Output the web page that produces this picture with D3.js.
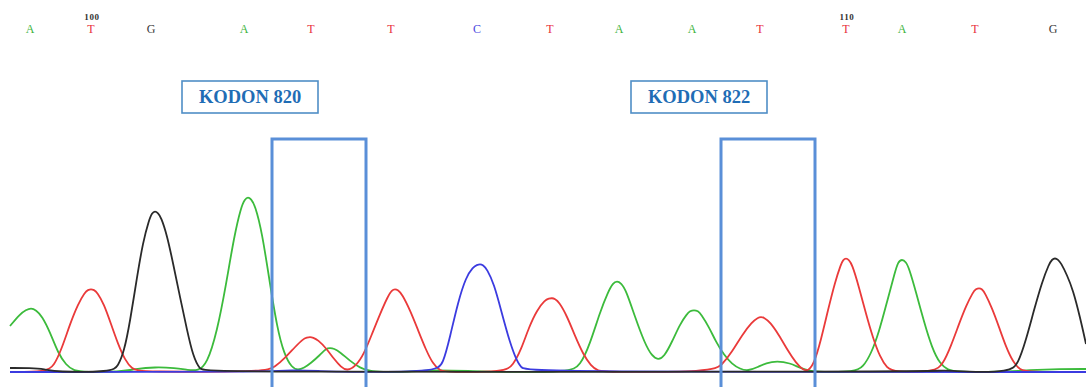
<!DOCTYPE html>
<html>
<head>
<meta charset="utf-8">
<script src="https://cdn.jsdelivr.net/npm/d3@7/dist/d3.min.js"></script>
<style>
  html, body { margin: 0; padding: 0; background: #fff; }
  svg { display: block; }
</style>
</head>
<body>
<svg id="chart" width="1086" height="387"></svg>
<script>
// ---------- DATA ----------
// Base calls and their scan positions
const baseCalls = ["A","T","G","A","T","T","C","T","A","A","T","T","A","T","G"];
const basePositions = [30, 91, 151, 244, 311, 391, 477, 550, 619, 692, 760, 846, 902, 975, 1053];
// Position numbering labels (index into baseCalls)
const positionLabels = ["100", "110"];
const positionLabelIndex = [1, 11];

// Codon annotations (scan-position ranges)
const codonLabels = ["KODON 820", "KODON 822"];
const codonStart = [272, 721];
const codonEnd = [366, 815];

// Trace signals: [scan position, signal intensity]
const traceA = [ // green
  [10,46],[20,58],[26,62],[31,64],[36,62],[42,56],[50,40],[58,19],[66,7],[74,1],[85,0],
  [120,0],[135,3],[155,5],[175,4],[188,2],[198,1],
  [207,8],[217,40],[226,87],[234,135],[241,165],[245,173],[248,175],[251,173],[255,167],[262,140],[270,88],[277,45],[284,18],[292,4],
  [298,2],[304,4],[311,9],[320,17],[326,23.5],[330,24],[334,23.5],[340,20],[350,11],[360,4],[370,1],[380,0],
  [410,0],[430,2],[470,1],[500,0],
  [570,0],[580,6],[590,28],[600,60],[608,80],[613,89],[617,91],[621,89],[626,82],[635,55],[645,28],[652,16],[658,12],[664,15],[672,30],[680,48],[687,58],[690,61],[694,62],[698,61],[701,58],[709,45],[716,30],[724,17],[732,8],[740,3],[748,1],
  [758,5],[766,9],[777,11],[790,9],[800,4],[810,1],[820,0],
  [855,0],[863,5],[871,18],[879,40],[887,70],[895,100],[898,110],[902,113],[906,110],[909,104],[916,80],[924,50],[932,24],[940,8],[948,2],[956,0],
  [1000,0],[1030,2],[1060,3],[1086,3]
];
const traceT = [ // red
  [10,0],[46,0],[54,6],[62,24],[70,48],[78,68],[85,80],[88,82],[91,83],[94,82],[97,80],[104,68],[111,48],[118,28],[125,12],[132,3],[140,0],
  [265,0],[275,5],[285,14],[295,25],[303,33],[307,34.5],[310,35],[313,34.5],[318,32],[326,24],[334,13],[341,5],[347,1],
  [356,6],[364,18],[372,38],[380,58],[388,76],[392,82],[395,83],[398,82],[402,78],[410,62],[418,42],[426,22],[433,8],[440,1],[448,0],
  [505,0],[513,7],[521,22],[529,45],[537,62],[545,72],[549,73.5],[552,74],[555,73],[559,70],[567,56],[575,36],[583,18],[591,6],[598,1],[606,0],
  [712,0],[722,7],[732,20],[742,37],[752,50],[758,54.5],[761,55],[764,54.5],[770,50],[779,37],[788,21],[796,9],[803,2],[808,1],
  [814,8],[821,32],[828,62],[835,90],[841,108],[843,112],[846,114],[849,112],[852,108],[859,85],[866,58],[873,34],[880,15],[887,4],[894,0],
  [935,0],[943,8],[951,26],[959,48],[966,66],[973,80],[976,83],[979,84],[982,83],[985,79],[992,64],[999,45],[1006,25],[1013,10],[1020,2],[1028,0],
  [1086,0]
];
const traceC = [ // blue
  [10,0],[270,0],[290,2],[320,1],[340,0],
  [436,0],[443,8],[450,35],[458,70],[466,95],[473,105],[477,107],[480,108],[483,107],[487,103],[494,88],[501,62],[508,36],[515,15],[521,4],[528,0],
  [1086,0]
];
const traceG = [ // black
  [10,4],[30,4],[45,3],[55,0],
  [112,0],[118,6],[124,20],[130,50],[137,95],[143,130],[149,152],[152,159],[155,161],[158,159],[161,155],[167,137],[173,109],[180,75],[187,42],[193,16],[200,2],[206,0],
  [920,0],[945,2],[965,0],
  [1010,0],[1018,8],[1026,32],[1034,62],[1042,90],[1049,108],[1052,112.5],[1055,114],[1058,112.5],[1061,109],[1067,97],[1073,82],[1080,55],[1086,28]
];

// ---------- STYLE ----------
const baseColors = { A: "#3cb43c", T: "#e8303c", G: "#3a3a3a", C: "#4848e0" };
const traces = [
  { data: traceA, color: "#3cbb3c" },
  { data: traceT, color: "#ea3a3a" },
  { data: traceC, color: "#3b3be0" },
  { data: traceG, color: "#2a2a2a" }
];

const svg = d3.select("#chart");
const W = 1086, H = 387;

const x = d3.scaleLinear().domain([10, 1086]).range([10, 1086]);
const y = d3.scaleLinear().domain([0, 200]).range([372, 172]);

const line = d3.line()
  .x(d => x(d[0]))
  .y(d => y(d[1]))
  .curve(d3.curveBasis);

// traces
const g = svg.append("g");
traces.forEach(t => {
  g.append("path")
    .attr("d", line(t.data))
    .attr("fill", "none")
    .attr("stroke", t.color)
    .attr("stroke-width", 1.8)
    .attr("stroke-linejoin", "round");
});

// base calls
const serif = "'Liberation Serif', 'Times New Roman', 'DejaVu Serif', serif";
svg.append("g").selectAll("text.base")
  .data(baseCalls)
  .join("text")
  .attr("class", "base")
  .attr("x", (d, i) => x(basePositions[i]))
  .attr("y", 33)
  .attr("text-anchor", "middle")
  .attr("font-family", serif)
  .attr("font-size", 12)
  .attr("fill", d => baseColors[d])
  .text(d => d);

svg.append("g").selectAll("text.pos")
  .data(positionLabels)
  .join("text")
  .attr("class", "pos")
  .attr("x", (d, i) => x(basePositions[positionLabelIndex[i]]) + 1)
  .attr("y", 19.5)
  .attr("text-anchor", "middle")
  .attr("font-family", serif)
  .attr("font-size", 9)
  .attr("font-weight", "bold")
  .attr("letter-spacing", 0.6)
  .attr("fill", "#333")
  .text(d => d);

// codon highlight rectangles
const boxTop = 139;
svg.append("g").selectAll("rect.codon")
  .data(codonLabels)
  .join("rect")
  .attr("class", "codon")
  .attr("x", (d, i) => x(codonStart[i]))
  .attr("y", boxTop)
  .attr("width", (d, i) => x(codonEnd[i]) - x(codonStart[i]))
  .attr("height", H - boxTop + 20)
  .attr("fill", "none")
  .attr("stroke", "#5a8fd8")
  .attr("stroke-width", 3);

// codon label boxes
const labelW = 136, labelH = 32, labelTop = 81;
const lab = svg.append("g").selectAll("g.lab")
  .data(codonLabels)
  .join("g")
  .attr("class", "lab")
  .attr("transform", (d, i) => {
    const cx = (x(codonStart[i]) + x(codonEnd[i])) / 2 - 69;
    return `translate(${cx},${labelTop})`;
  });
lab.append("rect")
  .attr("x", -labelW / 2).attr("y", 0)
  .attr("width", labelW).attr("height", labelH)
  .attr("fill", "#fff")
  .attr("stroke", "#4f8ec6")
  .attr("stroke-width", 1.6);
lab.append("text")
  .attr("x", 0).attr("y", 21.5)
  .attr("text-anchor", "middle")
  .attr("font-family", serif)
  .attr("font-weight", "bold")
  .attr("font-size", 18.5)
  .attr("fill", "#1f6db5")
  .text(d => d);
</script>
</body>
</html>
